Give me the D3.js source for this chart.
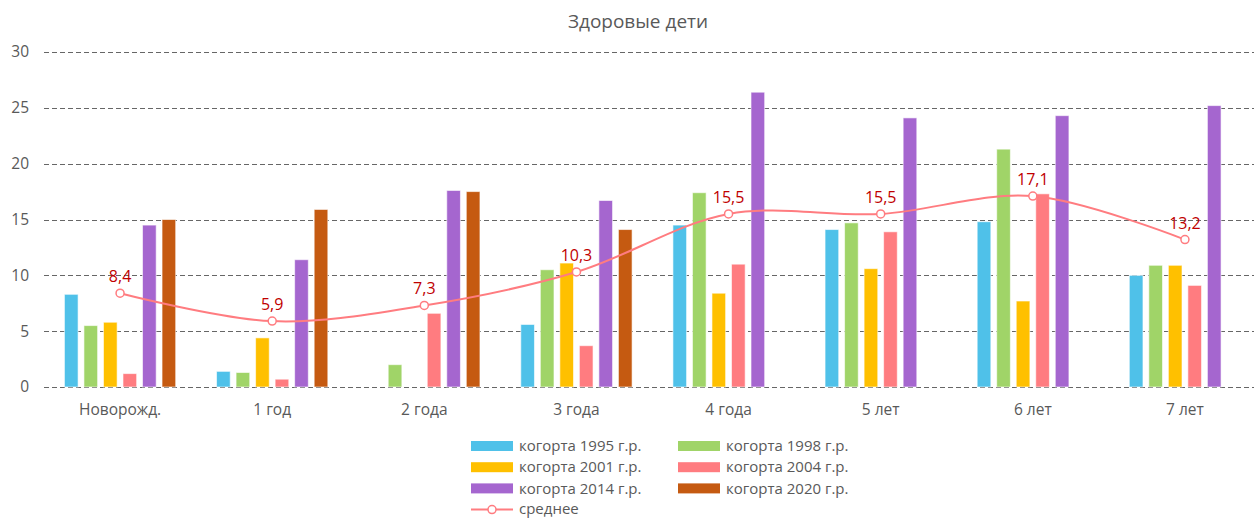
<!DOCTYPE html>
<html>
<head>
<meta charset="utf-8">
<script src="https://cdn.jsdelivr.net/npm/d3@7"></script>
<style>
  body { margin: 0; background: #fff; }
  svg { display: block; font-family: "Open Sans", sans-serif; }
  .tick-label { fill: #595959; font-size: 15.5px; }
  .legend-label { fill: #595959; font-size: 15px; }
</style>
</head>
<body>
<script>
// data
const categories = ['Новорожд.', '1 год', '2 года', '3 года', '4 года', '5 лет', '6 лет', '7 лет'];
const seriesNames = ['когорта 1995 г.р.', 'когорта 1998 г.р.', 'когорта 2001 г.р.', 'когорта 2004 г.р.', 'когорта 2014 г.р.', 'когорта 2020 г.р.'];
const cohort1995 = [8.3, 1.4, null, 5.6, 14.5, 14.1, 14.8, 10.0];
const cohort1998 = [5.5, 1.3, 2.0, 10.5, 17.4, 14.7, 21.3, 10.9];
const cohort2001 = [5.8, 4.4, null, 11.1, 8.4, 10.6, 7.7, 10.9];
const cohort2004 = [1.2, 0.7, 6.6, 3.7, 11.0, 13.9, 17.3, 9.1];
const cohort2014 = [14.5, 11.4, 17.6, 16.7, 26.4, 24.1, 24.3, 25.2];
const cohort2020 = [15.0, 15.9, 17.5, 14.1, null, null, null, null];
const meanValues = [8.4, 5.9, 7.3, 10.3, 15.5, 15.5, 17.1, 13.2];
const yTicks = [0, 5, 10, 15, 20, 25, 30];

const seriesValues = [cohort1995, cohort1998, cohort2001, cohort2004, cohort2014, cohort2020];
const colors = ['#4FC1E9', '#A0D468', '#FFC000', '#FF7C80', '#A566CF', '#C55A11'];
const meanColor = '#FF7C80';

const width = 1254, height = 520;
const margin = { left: 44, right: -7, top: 52, bottom: 133 };

const svg = d3.select('body').append('svg')
  .attr('width', width)
  .attr('height', height);

const x0 = d3.scaleBand()
  .domain(categories)
  .range([margin.left, width - margin.right])
  .paddingInner(0.23)
  .paddingOuter(0.115);

const x1 = d3.scaleBand()
  .domain(d3.range(seriesNames.length))
  .range([0, x0.bandwidth()])
  .paddingInner(0.3)
  .paddingOuter(0.15);

const y = d3.scaleLinear()
  .domain([0, 30])
  .range([height - margin.bottom, margin.top]);

// title
svg.append('text')
  .attr('x', 638)
  .attr('y', 28)
  .attr('text-anchor', 'middle')
  .attr('fill', '#595959')
  .style('font-size', '19px')
  .text('Здоровые дети');

// gridlines + y labels
const grid = svg.append('g');
grid.selectAll('line')
  .data(yTicks)
  .enter()
  .append('line')
  .attr('x1', margin.left)
  .attr('x2', width)
  .attr('y1', d => Math.round(y(d)) + 0.5)
  .attr('y2', d => Math.round(y(d)) + 0.5)
  .attr('stroke', '#666666')
  .attr('stroke-width', 1)
  .attr('stroke-dasharray', '5,3');

grid.selectAll('text')
  .data(yTicks)
  .enter()
  .append('text')
  .attr('class', 'tick-label')
  .attr('x', 29)
  .attr('y', d => y(d))
  .attr('dy', '0.35em')
  .attr('text-anchor', 'end')
  .text(d => d);

// bars
const groups = svg.selectAll('g.cat')
  .data(categories)
  .enter()
  .append('g')
  .attr('class', 'cat')
  .attr('transform', d => `translate(${x0(d)},0)`);

groups.selectAll('rect')
  .data((d, i) => seriesValues.map((s, k) => ({ k, v: s[i] })).filter(e => e.v != null))
  .enter()
  .append('rect')
  .attr('x', d => x1(d.k))
  .attr('width', x1.bandwidth())
  .attr('y', d => y(d.v))
  .attr('height', d => y(0) - y(d.v))
  .attr('fill', d => colors[d.k])
  .attr('stroke', '#ffffff')
  .attr('stroke-opacity', 0.6)
  .attr('stroke-width', 1);

// x labels
svg.append('g').selectAll('text')
  .data(categories)
  .enter()
  .append('text')
  .attr('class', 'tick-label')
  .attr('x', d => x0(d) + x0.bandwidth() / 2)
  .attr('y', 415)
  .attr('text-anchor', 'middle')
  .text(d => d);

// mean line
const cx = (d, i) => x0(categories[i]) + x0.bandwidth() / 2;
const line = d3.line()
  .x(cx)
  .y(d => y(d))
  .curve(d3.curveCatmullRom.alpha(0.5));

svg.append('path')
  .datum(meanValues)
  .attr('d', line)
  .attr('fill', 'none')
  .attr('stroke', meanColor)
  .attr('stroke-width', 2);

svg.append('g').selectAll('circle')
  .data(meanValues)
  .enter()
  .append('circle')
  .attr('cx', cx)
  .attr('cy', d => y(d))
  .attr('r', 4)
  .attr('fill', '#fff')
  .attr('stroke', meanColor)
  .attr('stroke-width', 1.5);

svg.append('g').selectAll('text')
  .data(meanValues)
  .enter()
  .append('text')
  .attr('x', cx)
  .attr('y', d => y(d) - 11)
  .attr('text-anchor', 'middle')
  .attr('fill', '#C00000')
  .style('font-size', '16px')
  .text(d => d.toFixed(1).replace('.', ','));

// legend
const legend = svg.append('g');
const legendItems = seriesNames.map((name, k) => ({ name, k }));
const lx = [471, 678], ly0 = 446, lstep = 21.2;

const li = legend.selectAll('g')
  .data(legendItems)
  .enter()
  .append('g')
  .attr('transform', d => `translate(${lx[d.k % 2]},${ly0 + Math.floor(d.k / 2) * lstep})`);

li.append('rect')
  .attr('x', 0)
  .attr('y', -5)
  .attr('width', 42)
  .attr('height', 10)
  .attr('fill', d => colors[d.k]);

li.append('text')
  .attr('class', 'legend-label')
  .attr('x', 48)
  .attr('dy', '0.35em')
  .text(d => d.name);

const meanLeg = legend.append('g')
  .attr('transform', `translate(${lx[0]},${ly0 + 3 * lstep})`);
meanLeg.append('line')
  .attr('x1', 0).attr('x2', 42)
  .attr('stroke', meanColor)
  .attr('stroke-width', 2);
meanLeg.append('circle')
  .attr('cx', 21).attr('r', 4)
  .attr('fill', '#fff')
  .attr('stroke', meanColor)
  .attr('stroke-width', 1.5);
meanLeg.append('text')
  .attr('class', 'legend-label')
  .attr('x', 48)
  .attr('dy', '0.3em')
  .text('среднее');
</script>
</body>
</html>
